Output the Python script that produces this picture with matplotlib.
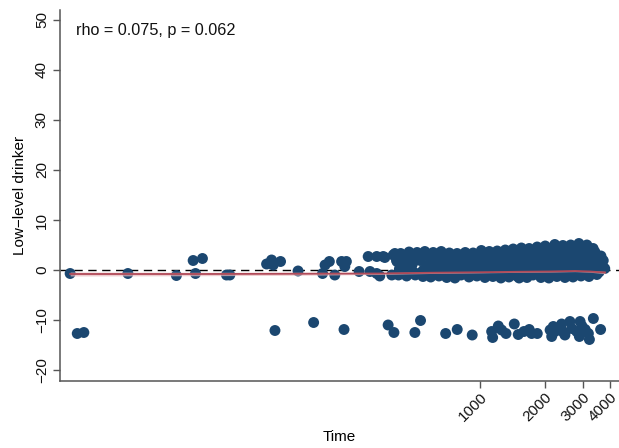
import matplotlib
matplotlib.use("Agg")
import matplotlib.pyplot as plt
from matplotlib.ticker import FixedLocator, NullLocator, FixedFormatter

plt.rcParams['font.family'] = ['Liberation Sans', 'DejaVu Sans']

# scattered points before the main cluster (time, difference)
early_x = [12.7, 23.5, 39.4, 47.1, 52.0, 48.3, 67.2, 69.6, 103, 108.6, 110.5, 119.5,
           144, 187, 192, 201, 213, 229, 241, 237, 276, 304, 333, 357, 333, 310,
           344, 363, 391, 397, 404, 413, 411]
early_y = [-0.7, -0.7, -1.1, 1.9, 2.3, -0.7, -1.0, -1.0, 1.2, 2.0, 1.0, 1.7,
           -0.2, -0.7, 1.0, 1.7, -1.0, 1.7, 1.7, 0.7, -0.3, 2.7, 2.7, 2.7, -0.7, -0.3,
           -1.2, 2.5, -1.0, 3.0, 3.3, 1.7, 2.0]

# main cluster near zero
band_x = [430, 426, 424, 420, 440, 448, 470, 463, 461, 458, 480, 487, 490,
          512, 502, 522, 530, 534, 556, 548, 545, 568, 576, 580,
          608, 596, 601, 592, 618, 628, 632, 662, 650, 655, 646,
          672, 684, 690, 722, 708, 702, 735, 745, 750,
          784, 772, 777, 766, 798, 812, 805, 818, 855, 840, 835,
          868, 885, 878, 890, 930, 915, 925, 945, 962, 955, 968,
          1015, 995, 990, 1030, 1048, 1040, 1055, 1105, 1085, 1080,
          1120, 1140, 1132, 1148, 1202, 1180, 1175, 1222, 1242, 1235, 1250,
          1310, 1288, 1296, 1278, 1330, 1352, 1345, 1362, 1425, 1400, 1395,
          1450, 1472, 1465, 1482, 1555, 1528, 1536, 1518, 1578, 1602, 1595, 1615,
          1690, 1662, 1672, 1650, 1720, 1745, 1738, 1760, 1840, 1810, 1820, 1798,
          1872, 1900, 1892, 1915, 2005, 1972, 1982, 1960, 2040, 2070, 2060, 2085,
          2185, 2150, 2160, 2130, 2220, 2252, 2244, 2270, 2380, 2340, 2350, 2320,
          2420, 2455, 2444, 2475, 2590, 2550, 2560, 2530, 2630, 2672, 2662, 2695,
          2820, 2778, 2790, 2755, 2870, 2910, 2898, 2935, 3070, 3025, 3036, 3000,
          3125, 3168, 3155, 3195, 3340, 3295, 3270, 3405, 3450, 3440, 3475,
          3630, 3590, 3560, 3720, 3780]
band_y = [3.3, 1.7, 0.2, -1.0, 2.5, -0.6, 3.6, 2.0, 0.6, -1.2, 2.9, 1.2, -0.3,
          3.5, -1.0, 2.6, 1.9, -0.5, 3.7, 0.0, -1.3, 2.9, 1.0, -0.8,
          3.5, 2.2, 0.1, -1.4, 3.2, 1.3, -0.6, 3.7, 2.4, 0.8, -1.2,
          2.9, 1.5, -0.3, 3.4, 0.3, -1.5, 2.6, 1.8, -0.8,
          3.3, 1.0, -0.2, -1.6, 2.8, 1.9, 0.4, -1.0, 3.5, 1.2, -0.5,
          3.0, 2.0, 0.6, -1.4, 3.4, 1.3, -0.3, 2.8, 2.1, 0.2, -1.2,
          3.9, 1.5, -0.6, 3.4, 2.4, 0.8, -1.5, 3.7, 1.6, -0.2,
          2.9, 2.2, 0.4, -1.3, 3.8, 1.3, -0.7, 3.2, 2.3, -0.1, -1.6,
          4.0, 1.4, 0.4, -0.9, 3.5, 2.4, 0.9, -1.4, 4.2, 1.7, -0.3,
          3.4, 2.7, 0.7, -1.2, 4.4, 1.8, 0.0, -1.6, 3.6, 2.6, 0.9, -0.7,
          4.3, 1.5, -0.1, -1.5, 3.5, 2.8, 0.6, -1.0, 4.6, 2.0, 1.1, -0.4,
          3.9, 2.7, 0.2, -1.5, 4.8, 1.6, 0.8, -0.9, 3.7, 2.6, -0.2, -1.6,
          4.5, 1.9, 1.0, -0.6, 5.1, 3.3, 0.3, -1.3, 4.2, 2.4, 1.2, -0.7,
          4.9, 3.0, 0.1, -1.5, 4.0, 1.8, 0.9, -0.9, 5.0, 3.1, 0.4, -1.4,
          4.3, 2.2, 1.3, -0.5, 5.3, 3.4, 0.2, -1.2, 4.6, 2.6, 1.0, -0.8,
          5.0, 3.3, 0.5, -1.3, 4.3, 1.9, -0.2, 3.6, 2.5, 0.6, -0.9,
          2.8, 1.0, -0.4, 1.9, 0.3]

# lower group
low_x = [13.7, 14.7, 112.6, 170, 235, 376, 400, 531, 500, 694, 785, 921, 1133, 1145,
         1216, 1260, 1320, 1442, 1504, 1598, 1691, 1735, 1842, 2148, 2185, 2223,
         2388, 2473, 2609, 2657, 2804, 2884, 2964, 3069, 3210, 3348, 3175, 3617,
         2414, 2112, 2907]
low_y = [-12.7, -12.5, -12.1, -10.5, -11.9, -11.0, -12.5, -10.1, -12.5, -12.7, -11.9,
         -13.0, -12.3, -13.5, -11.2, -12.0, -12.7, -10.8, -12.9, -12.3, -11.9, -12.7,
         -12.7, -13.3, -11.3, -12.3, -10.8, -13.0, -10.3, -11.7, -12.3, -13.3, -11.2,
         -11.9, -13.9, -9.7, -12.7, -11.9, -12.3, -12.0, -10.3]

# smoothed trend with its band
trend_x = [12.7, 50.6, 147, 344, 587, 1000, 1532, 2109, 2752, 3230, 3790]
trend_y = [-0.8, -0.8, -0.75, -0.7, -0.55, -0.45, -0.35, -0.3, -0.2, -0.3, -0.5]
trend_lo = [-1.2, -1.15, -1.05, -0.9, -0.7, -0.58, -0.47, -0.42, -0.33, -0.45, -0.75]
trend_hi = [-0.4, -0.45, -0.45, -0.5, -0.4, -0.32, -0.23, -0.18, -0.07, -0.15, -0.25]

xticks = [1000, 2000, 3000, 4000]
yticks = [-20, -10, 0, 10, 20, 30, 40, 50]

dot = '#1b4770'

fig = plt.figure(figsize=(6.19, 4.48), dpi=100)
ax = fig.add_axes([60 / 619, 67.5 / 448, 559 / 619, 370.5 / 448])

ax.axhline(0, color='black', lw=1.0, ls=(0, (6, 4)), zorder=1)
for xs, ys in [(early_x, early_y), (band_x, band_y), (low_x, low_y)]:
    ax.scatter(xs, ys, s=62, color=dot, edgecolors='none', zorder=2)
ax.fill_between(trend_x, trend_lo, trend_hi, color='#e8b8bc', alpha=0.7,
                lw=0, zorder=3)
ax.plot(trend_x, trend_y, color='#b04a58', lw=1.3, zorder=4)

ax.set_xscale('log')
ax.set_xlim(11.4, 4400)
ax.set_ylim(-22.1, 52)
ax.xaxis.set_major_locator(FixedLocator(xticks))
ax.xaxis.set_major_formatter(FixedFormatter([str(t) for t in xticks]))
ax.xaxis.set_minor_locator(NullLocator())
ax.set_yticks(yticks)
ax.set_yticklabels([str(v).replace('-', '\u2212') for v in yticks],
                   rotation=90, va='center')

for lbl in ax.get_xticklabels():
    lbl.set_rotation(45)
    lbl.set_ha('right')
    lbl.set_va('top')
    lbl.set_rotation_mode('anchor')

for side in ['top', 'right']:
    ax.spines[side].set_visible(False)
for side in ['left', 'bottom']:
    ax.spines[side].set_color('#555555')
    ax.spines[side].set_linewidth(1.1)
ax.tick_params(axis='both', length=5, width=1.0, color='#555555',
               labelsize=11, labelcolor='#111111')
ax.tick_params(axis='y', pad=3)
ax.tick_params(axis='x', pad=2)

ax.set_xlabel('Time', fontsize=11, labelpad=4)
ax.set_ylabel('Low\u2212level drinker', fontsize=11, labelpad=6)
ax.text(0.029, 0.946, 'rho = 0.075, p = 0.062', transform=ax.transAxes,
        fontsize=11.7, va='center', ha='left', color='#111111')

fig.savefig('out.png', dpi=100)
